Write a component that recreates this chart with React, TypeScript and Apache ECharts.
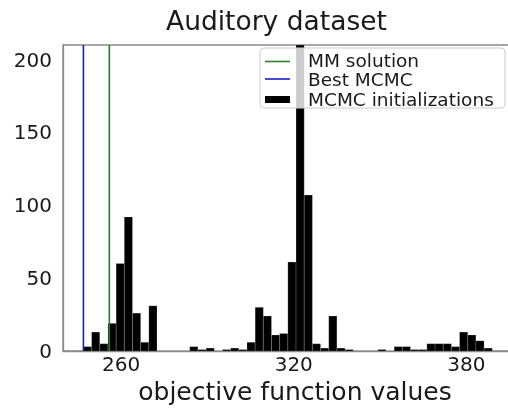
import React, { useEffect, useRef } from "react";
import * as echarts from "echarts";

// Histogram of objective function values (50 bins)
const binStart = 246.9;
const binWidth = 2.842;
const counts = [
  3, 13, 5, 19, 60, 92, 26, 6, 31, 0,
  0, 0, 0, 3, 1, 2, 0, 1, 2, 1,
  6, 30, 24, 11, 12, 61, 240, 107, 5, 2,
  24, 2, 1, 0, 0, 0, 1, 0, 3, 3,
  1, 1, 5, 5, 5, 3, 13, 11, 7, 2,
];
const mmSolution = 255.9;
const bestMcmc = 246.9;
const xTicks = [260, 320, 380];
const xMin = 239.8;
const xMax = 396.2;
const yMax = 210;

const legendLabels = ["MM solution", "Best MCMC", "MCMC initializations"];
const FONT = "DejaVu Sans";

export default function App() {
  const ref = useRef<HTMLDivElement>(null);
  useEffect(() => {
    document.body.style.margin = "0";
    const chart = echarts.init(ref.current!, null, { renderer: "svg" });
    const histData = counts.map((c, i) => [
      binStart + i * binWidth,
      binStart + (i + 1) * binWidth,
      c,
    ]);
    chart.setOption({
      animation: false,
      title: {
        text: "Auditory dataset",
        left: 166,
        top: 7,
        padding: 0,
        textStyle: { fontSize: 26.5, fontFamily: FONT, fontWeight: "normal", color: "#1a1a1a" },
      },
      grid: {
        left: 63,
        width: 450,
        top: 45,
        height: 306,
        outerBoundsMode: "none",
        containLabel: false,
        show: true,
        borderColor: "#8a8a8a",
        borderWidth: 1.3,
      },
      xAxis: {
        type: "value",
        min: xMin,
        max: xMax,
        name: "objective function values",
        nameLocation: "middle",
        nameGap: 28,
        nameTextStyle: { fontSize: 25, fontFamily: FONT, color: "#1a1a1a", padding: [0, 0, 0, 14] },
        axisLine: { show: true, lineStyle: { color: "#8a8a8a", width: 1.3 } },
        axisTick: { show: false },
        splitLine: { show: false },
        axisLabel: {
          customValues: xTicks,
          fontSize: 20,
          fontFamily: FONT,
          color: "#1a1a1a",
          margin: 3,
        },
      },
      yAxis: {
        type: "value",
        min: 0,
        max: yMax,
        interval: 50,
        axisLine: { show: true, lineStyle: { color: "#8a8a8a", width: 1.3 } },
        axisTick: { show: false },
        splitLine: { show: false },
        axisLabel: { fontSize: 20, fontFamily: FONT, color: "#1a1a1a", margin: 11 },
      },
      series: [
        {
          type: "custom",
          clip: true,
          data: histData,
          encode: { x: [0, 1], y: 2 },
          renderItem: (params: any, api: any) => {
            const lo = api.value(0);
            const hi = api.value(1);
            const c = Math.min(api.value(2), yMax);
            const p0 = api.coord([lo, 0]);
            const p1 = api.coord([hi, c]);
            return {
              type: "rect",
              shape: { x: p0[0], y: p1[1], width: p1[0] - p0[0], height: p0[1] - p1[1] },
              style: { fill: "#000", stroke: "rgba(255,255,255,0.35)", lineWidth: 0.5 },
            };
          },
        },
        {
          type: "line",
          data: [[mmSolution, 0], [mmSolution, yMax]],
          showSymbol: false,
          lineStyle: { color: "#2e7d2e", width: 1.6 },
          z: 5,
        },
        {
          type: "line",
          data: [[bestMcmc, 0], [bestMcmc, yMax]],
          showSymbol: false,
          lineStyle: { color: "#1c1cc8", width: 1.6 },
          z: 5,
        },
      ],
      graphic: [
        {
          type: "rect",
          z: 100,
          shape: { x: 260, y: 48, width: 245, height: 60, r: 4 },
          style: { fill: "rgba(255,255,255,0.8)", stroke: "#cccccc", lineWidth: 1 },
        },
        {
          type: "line",
          z: 101,
          shape: { x1: 265, y1: 61.5, x2: 290, y2: 61.5 },
          style: { stroke: "#2e7d2e", lineWidth: 1.6 },
        },
        {
          type: "line",
          z: 101,
          shape: { x1: 265, y1: 79, x2: 290, y2: 79 },
          style: { stroke: "#1c1cc8", lineWidth: 1.6 },
        },
        {
          type: "rect",
          z: 101,
          shape: { x: 265, y: 96, width: 25, height: 7 },
          style: { fill: "#000" },
        },
        ...legendLabels.map((t, i) => ({
          type: "text",
          z: 101,
          x: 308,
          y: [60, 79.5, 99.5][i],
          style: {
            text: t,
            font: `18.5px '${FONT}'`,
            fill: "#1a1a1a",
            textVerticalAlign: "middle",
          },
        })),
      ],
    });
    return () => chart.dispose();
  }, []);
  return (
    <div
      ref={ref}
      style={{ position: "fixed", left: 0, top: 0, width: 508, height: 410 }}
    />
  );
}
